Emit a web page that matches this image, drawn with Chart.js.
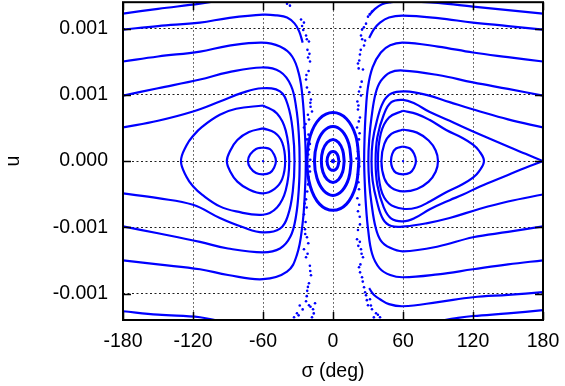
<!DOCTYPE html>
<html>
<head>
<meta charset="utf-8">
<script src="https://cdn.jsdelivr.net/npm/chart.js@4.4.0/dist/chart.umd.min.js"></script>
<style>
  html, body { margin: 0; padding: 0; background: #fff; }
  canvas { display: block; }
</style>
</head>
<body>
<canvas id="c" width="565" height="386"></canvas>
<script>
// ---- axis ticks ----
const xTickValues = [-180, -120, -60, 0, 60, 120, 180];
const xTickLabels = ['-180', '-120', '-60', '0', '60', '120', '180'];
const yTickValues = [-0.001, -0.0005, 0, 0.0005, 0.001];
const yTickLabels = ['-0.001', '-0.001', '0.000', '0.001', '0.001'];

// ---- curves: [sigma (deg), u (x 1e-4)] ----
const U = 1e-4;

// tadpole loops around sigma = -60
const leftTadpoleInner = [[-60,1.03],[-54,0.9],[-50.5,0.5],[-48.9,0],[-50.5,-0.5],[-54,-0.88],[-60,-1.0],[-66,-0.9],[-71,-0.5],[-72.9,0],[-71,0.5],[-66,0.92],[-60,1.03]];
const leftTadpoleMiddle = [[-60,2.47],[-50,2.15],[-43.5,1.4],[-41,0],[-43.5,-1.35],[-50,-2.1],[-60,-2.44],[-72,-2.15],[-82,-1.55],[-88,-0.8],[-91,0],[-88,0.8],[-82,1.6],[-72,2.2],[-60,2.47]];
const leftTadpoleOuter = [[-60,4.2],[-48,3.6],[-40.5,2.3],[-37.5,0],[-40.5,-2.2],[-48,-3.5],[-60,-4.05],[-83,-3.8],[-97,-3.42],[-112,-2.55],[-120,-1.9],[-125.5,-1.2],[-130.3,0],[-125.5,1.2],[-120,1.9],[-112,2.6],[-97,3.5],[-83,3.95],[-60,4.2]];

// tadpole loops around sigma = +60
const rightTadpoleInner = [[60,1.1],[66,0.95],[69.5,0.55],[71.1,0],[69.5,-0.5],[66,-0.88],[60,-1.0],[54,-0.88],[50.8,-0.5],[49.7,0],[50.8,0.55],[54,0.95],[60,1.1]];
const rightTadpoleMiddle = [[60,2.39],[72,2.15],[82,1.55],[88,0.8],[90,0],[88,-0.8],[82,-1.55],[72,-2.1],[60,-2.29],[50,-2.0],[44,-1.3],[41.5,0],[44,1.3],[50,2.05],[60,2.39]];
const rightTadpoleOuter = [[60,3.8],[72,3.55],[83,3.1],[97,2.35],[111,1.75],[120,1.25],[125,0.8],[129.4,0],[125,-0.8],[120,-1.25],[111,-1.75],[97,-2.35],[83,-3.05],[72,-3.5],[60,-3.6],[48,-3.2],[41,-2.1],[38.5,0],[41,2.1],[48,3.3],[60,3.8]];

// curve through the point (180, 0)
const rightSeparatrix = [[180,0],[165,0.55],[150,1.1],[126,2.01],[111,2.6],[100,3.05],[83,3.7],[70,4.35],[60,4.62],[50,4.45],[43.5,3.5],[38,1.8],[36.5,0],[38,-1.8],[43.5,-3.5],[50,-4.35],[60,-4.55],[70,-4.3],[83,-3.64],[100,-2.95],[111,-2.55],[126,-1.91],[150,-1.05],[165,-0.5],[180,0]];

// horseshoe-type curves on the right half
const right5 = [[180,2.54],[150,3.15],[126,3.75],[100,4.45],[80,5.0],[62,5.26],[50,5.1],[43,4.45],[37.5,3.0],[34,1.5],[33,0],[34,-1.5],[37.5,-3.0],[43,-4.4],[50,-4.9],[62,-4.93],[80,-4.7],[100,-4.3],[126,-3.6],[150,-3.05],[180,-2.52]];
const right4 = [[180,4.95],[150,5.45],[120,5.94],[90,6.5],[60,6.84],[49,6.7],[41,6.05],[36.5,5.1],[33,3.3],[31,1.6],[30.3,0],[31,-1.6],[33,-3.2],[36.5,-5.0],[41,-6.0],[49,-6.55],[60,-6.81],[90,-6.45],[120,-5.75],[150,-5.35],[180,-4.93]];
const right3 = [[180,7.52],[150,7.85],[120,8.2],[90,8.65],[60,8.95],[49,8.75],[41,8.2],[34,7.1],[30,5.6],[28,3.6],[27,1.6],[26.7,0],[27.2,-1.6],[28.2,-3.3],[30,-5.1],[33.5,-7.0],[40,-8.1],[49,-8.6],[60,-8.77],[90,-8.55],[120,-8.17],[150,-7.8],[180,-7.49]];
const right2Top = [[180,9.93],[150,10.2],[120,10.46],[90,10.8],[60,10.99],[48,10.85],[40.3,10.46],[35,9.95],[31,9.3]];
const right2Bottom = [[180,-9.9],[150,-10.1],[120,-10.28],[90,-10.65],[60,-10.96],[48,-10.8],[40.3,-10.43],[35,-10.1],[31,-9.6]];
const right1Top = [[180,11.14],[150,11.4],[120,11.67],[90,11.95],[70,12.05],[60,12.08],[50,12.0],[42,11.85],[36,11.5],[31,11.0]];
const right1Bottom = [[180,-11.26],[150,-11.5],[120,-11.7],[106,-11.86],[90,-12.1]];

// horseshoe-type curves on the left half
const left5 = [[-180,2.54],[-150,3.05],[-120,3.75],[-97,4.5],[-78,5.15],[-61,5.5],[-45.4,5.26],[-38.6,4.2],[-34.5,2.3],[-33,0],[-34.5,-2.3],[-38.6,-4.1],[-45.4,-5.1],[-60,-5.38],[-77,-5.0],[-97,-4.3],[-120,-3.3],[-150,-2.8],[-180,-2.44]];
const left4 = [[-180,4.95],[-150,5.5],[-114,6.16],[-90,6.7],[-61,7.07],[-45.4,6.76],[-36,5.7],[-31.5,4.0],[-29.3,2.0],[-28.6,0],[-29.3,-2.1],[-31.8,-4.2],[-36.5,-5.7],[-45.4,-6.6],[-60,-6.89],[-90,-6.6],[-114,-6.1],[-150,-5.45],[-180,-4.93]];
const left3 = [[-180,7.52],[-150,7.9],[-114,8.27],[-90,8.7],[-61,8.95],[-45.4,8.65],[-35,7.9],[-29,6.5],[-26,4.7],[-24.2,2.3],[-23.3,0],[-24,-2.2],[-26.3,-4.9],[-31,-7.1],[-39.4,-8.35],[-60,-8.92],[-90,-8.6],[-114,-8.17],[-150,-7.8],[-180,-7.49]];
const left2Top = [[-180,9.93],[-150,10.2],[-114,10.46],[-90,10.8],[-60,11.06],[-48,11.0],[-39.4,10.84],[-33,10.4],[-29,9.8],[-26,8.95]];
const left1Top = [[-180,11.14],[-150,11.5],[-114,11.89],[-95,12.15]];
const left1Bottom = [[-180,-11.34],[-150,-11.6],[-114,-11.79],[-97,-12.1]];

// loops around sigma = 0
const center1 = [[22.3,0],[19.5,1.9],[11.5,3.2],[0,3.67],[-11.5,3.2],[-19.5,1.9],[-22.3,0],[-19.5,-1.9],[-11.5,-3.25],[0,-3.72],[11.5,-3.25],[19.5,-1.9],[22.3,0]];
const center2 = [[15.6,0],[13.5,1.32],[7.8,2.27],[0,2.62],[-7.9,2.27],[-13.7,1.32],[-15.9,0],[-13.7,-1.3],[-7.9,-2.24],[0,-2.59],[7.8,-2.24],[13.5,-1.3],[15.6,0]];
const center3 = [[9.6,0],[8.3,0.82],[4.8,1.41],[0,1.64],[-5.0,1.41],[-8.7,0.82],[-10.0,0],[-8.7,-0.8],[-5.0,-1.39],[0,-1.61],[4.8,-1.39],[8.3,-0.8],[9.6,0]];
const center4 = [[5.1,0],[3.6,0.52],[0,0.73],[-3.6,0.52],[-5.1,0],[-3.6,-0.5],[0,-0.7],[3.6,-0.5],[5.1,0]];
const centerDot = [[0,0]];
const tadpoleDots = [[-60,0],[60,0]];

// scattered (chaotic) points near sigma = +-20..30
const dotsLeft = [[-39.4,11.89],[-36.9,11.74],[-27.4,10.69],[-24.9,10.46],[-26.5,10.2],[-25.5,9.9],[-23.1,9.48],[-22.4,9.2],[-20.6,9.03],[-21.9,8.4],[-20.2,8.1],[-21.4,7.82],[-19.7,7.52],[-20.9,6.8],[-22.8,6.5],[-23.1,6.16],[-22.3,5.56],[-20.3,5.2],[-18.9,4.65],[-19.4,4.4],[-19.2,4.1],[-18,3.75],[-21.5,3.5],[-20.6,3.14],[-23.5,2.8],[-24.9,2.54],[-21,2.0],[-22.3,1.64],[-19.8,1.3],[-20.6,0.88],[-21.2,0.5],[-19.5,0.1],[-20.2,-0.4],[-19.7,-0.78],[-20.9,-1.2],[-21.4,-1.76],[-22.1,-2.3],[-23.1,-2.89],[-24.2,-3.2],[-22.6,-3.5],[-24.9,-4.02],[-23.5,-4.6],[-24,-5.15],[-23.8,-5.5],[-22.3,-5.75],[-21.2,-6.2],[-24.9,-6.66],[-21.8,-7.0],[-23.1,-7.26],[-19.8,-7.9],[-19.5,-8.3],[-18.9,-8.62],[-20.6,-9.23],[-21.5,-9.5],[-22.1,-9.8],[-22.5,-10.2],[-23.1,-10.58],[-20.6,-10.89],[-19.3,-11.0],[-15.4,-10.74],[-17.1,-11.19],[-16.5,-11.5],[-26,-11.2],[-28.5,-10.9],[-29.5,-11.65],[-30.9,-11.49],[-33.4,-11.79],[-18,-11.79]];
const dotsRight = [[33.4,11.29],[31.5,11.1],[30,10.91],[28.3,10.38],[26.5,10.1],[24.9,9.93],[24,9.48],[25,9.2],[27.5,9.1],[26.6,8.73],[23.8,8.4],[23.1,8.05],[22.5,7.6],[21.4,7.37],[22,7.0],[25.7,6.92],[24.6,6.0],[23.5,5.6],[22.3,5.26],[24,4.95],[20.9,4.5],[21.8,4.2],[21.4,3.9],[23.1,3.29],[22.1,3.0],[20.6,2.54],[22.8,2.1],[22.3,1.64],[21,1.2],[21.4,0.73],[20.2,0.2],[21.9,-0.2],[22.6,-0.4],[21.4,-1.0],[21.8,-1.6],[22.3,-2.13],[20.9,-2.8],[22.5,-3.3],[21.4,-3.79],[22.9,-4.2],[23.1,-4.78],[21.4,-5.2],[20.6,-5.9],[23,-6.1],[21.7,-6.4],[24,-6.66],[24.5,-7.0],[25.7,-7.26],[23.5,-7.8],[22.3,-8.02],[23.2,-8.4],[24.9,-8.77],[25.5,-9.1],[26.6,-9.53],[27.5,-9.9],[28.3,-10.13],[31.7,-10.43],[29,-10.5],[30,-10.89],[32.5,-10.9],[33.4,-11.19],[36.9,-11.49],[35,-11.8],[38.5,-11.6],[40.3,-11.79]];

// ---- build datasets ----
const BLUE = 'rgb(0,0,255)';
const toPts = arr => arr.map(([s, u]) => ({ x: s, y: u * U }));
function curve(arr, w) {
  return { data: toPts(arr), showLine: true, borderColor: BLUE, backgroundColor: BLUE,
           borderWidth: w || 2.2, pointRadius: 0, pointHoverRadius: 0, tension: 0.4, fill: false, clip: 0 };
}
function dots(arr, r) {
  return { data: toPts(arr), showLine: false, pointRadius: r, pointHoverRadius: r,
           pointBackgroundColor: BLUE, pointBorderWidth: 0, borderColor: BLUE, backgroundColor: BLUE, clip: 0 };
}

const datasets = [
  curve(leftTadpoleInner), curve(leftTadpoleMiddle), curve(leftTadpoleOuter),
  curve(rightTadpoleInner), curve(rightTadpoleMiddle), curve(rightTadpoleOuter),
  curve(rightSeparatrix),
  curve(right5), curve(right4), curve(right3), curve(right2Top), curve(right2Bottom), curve(right1Top), curve(right1Bottom),
  curve(left5), curve(left4), curve(left3), curve(left2Top), curve(left1Top), curve(left1Bottom),
  curve(center1, 3), curve(center2, 3), curve(center3, 3), curve(center4, 3),
  dots(centerDot, 2.2), dots(tadpoleDots, 1.2),
  dots(dotsLeft, 1.3), dots(dotsRight, 1.3)
];

const FONT = "'Liberation Sans', Arial, Helvetica, sans-serif";

const framePlugin = {
  id: 'frame',
  afterDatasetsDraw(chart) {
    const { ctx, chartArea: a, scales: { x, y } } = chart;
    const L = 8;
    ctx.save();
    ctx.strokeStyle = '#000';
    ctx.lineWidth = 1.5;
    ctx.beginPath();
    xTickValues.forEach(v => {
      const px = Math.round(x.getPixelForValue(v)) + 0.5;
      ctx.moveTo(px, a.top); ctx.lineTo(px, a.top + L);
      ctx.moveTo(px, a.bottom); ctx.lineTo(px, a.bottom - L);
    });
    yTickValues.forEach(v => {
      const py = Math.round(y.getPixelForValue(v)) + 0.5;
      ctx.moveTo(a.left, py); ctx.lineTo(a.left + L, py);
      ctx.moveTo(a.right, py); ctx.lineTo(a.right - L, py);
    });
    ctx.stroke();
    ctx.lineWidth = 2;
    ctx.strokeRect(a.left, a.top, a.right - a.left, a.bottom - a.top);
    ctx.restore();
  }
};

new Chart(document.getElementById('c'), {
  type: 'scatter',
  data: { datasets },
  options: {
    responsive: false,
    animation: false,
    devicePixelRatio: 1,
    layout: { padding: { top: 2, right: 22, left: 0, bottom: 0 } },
    plugins: { legend: { display: false }, tooltip: { enabled: false } },
    events: [],
    scales: {
      x: {
        type: 'linear', min: -180, max: 180,
        afterBuildTicks: s => { s.ticks = xTickValues.map(v => ({ value: v })); },
        afterFit: s => { s.height = 66; s.paddingLeft = 0; s.paddingRight = 0; },
        ticks: { autoSkip: false, maxRotation: 0, padding: 10, color: '#000',
                 font: { family: FONT, size: 19.5 },
                 callback: (v, i) => xTickLabels[i] },
        grid: { color: '#444', lineWidth: 1, drawTicks: false },
        border: { display: false, dash: [1.5, 2.5] },
        title: { display: true, text: 'σ (deg)', color: '#000', font: { family: FONT, size: 19.5 }, padding: { top: 0, bottom: 3 } }
      },
      y: {
        type: 'linear', min: -0.0012, max: 0.0012,
        afterBuildTicks: s => { s.ticks = yTickValues.map(v => ({ value: v })); },
        afterFit: s => { s.width = 123; s.paddingTop = 0; s.paddingBottom = 0; },
        ticks: { autoSkip: false, padding: 15, color: '#000',
                 font: { family: FONT, size: 19.5 },
                 callback: (v, i) => yTickLabels[i] },
        grid: { color: '#222', lineWidth: 1, drawTicks: false },
        border: { display: false, dash: [2, 2.5] },
        title: { display: true, text: 'u', color: '#000', font: { family: FONT, size: 19.5 }, padding: { top: 2, bottom: 0 } }
      }
    }
  },
  plugins: [framePlugin]
});
</script>
</body>
</html>
